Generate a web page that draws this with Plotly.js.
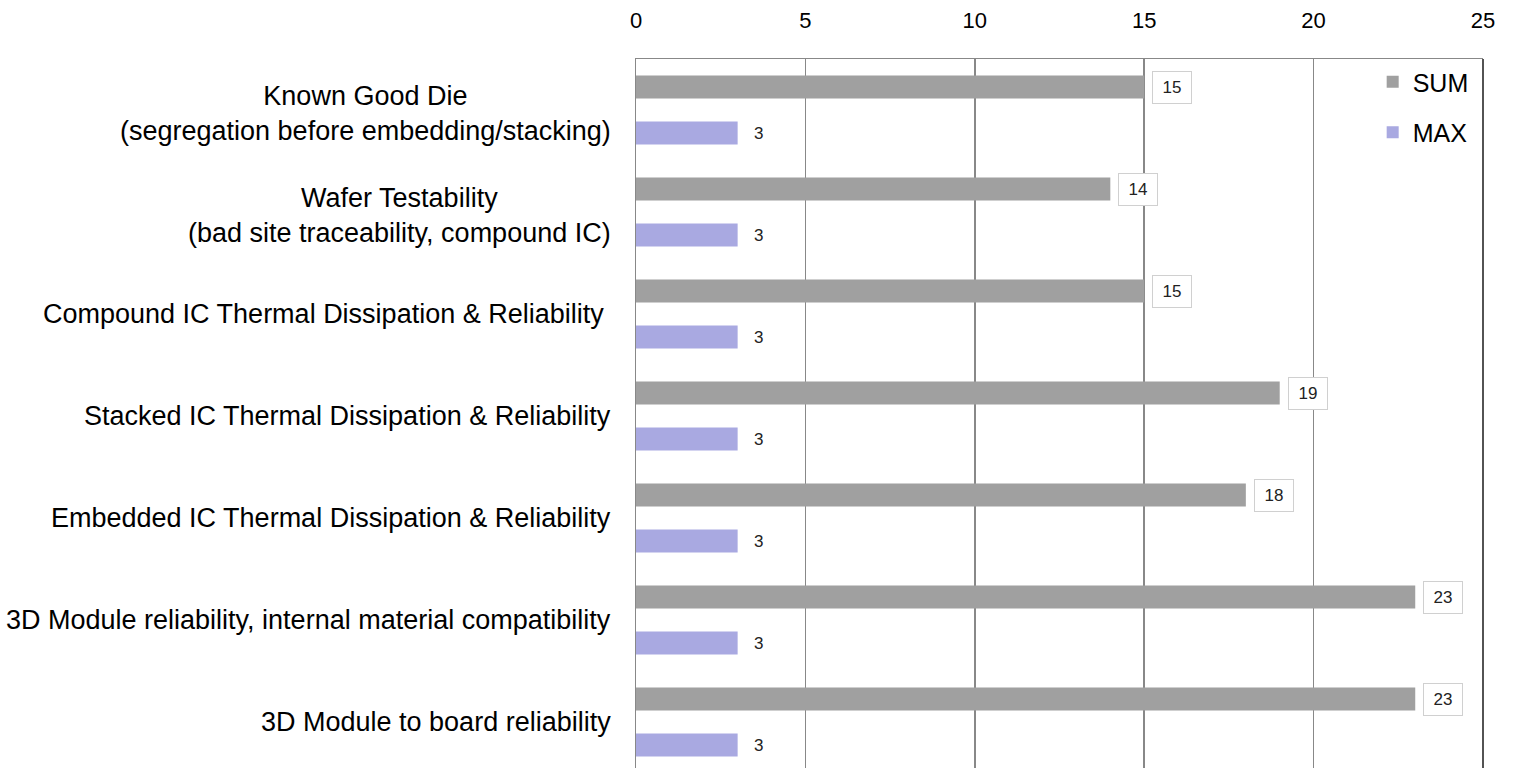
<!DOCTYPE html>
<html>
<head>
<meta charset="utf-8">
<script src="https://cdn.plot.ly/plotly-3.0.1.min.js"></script>
<style>
html,body{margin:0;padding:0;background:#fff;overflow:hidden;}
#chart{width:1517px;height:768px;}
</style>
</head>
<body>
<div id="chart"></div>
<script>
const categories = [
  "Known Good Die<br>(segregation before embedding/stacking)",
  "Wafer Testability<br>(bad site traceability, compound IC)",
  "Compound IC Thermal Dissipation & Reliability ",
  "Stacked IC Thermal Dissipation & Reliability",
  "Embedded IC Thermal Dissipation & Reliability",
  "3D Module reliability, internal material compatibility",
  "3D Module to board reliability"
];
const sumValues = [15, 14, 15, 19, 18, 23, 23];
const maxValues = [3, 3, 3, 3, 3, 3, 3];
const xTicks = [0, 5, 10, 15, 20, 25];
const seriesNames = ["SUM", "MAX"];

const FONT = '"Liberation Sans", Arial, sans-serif';
const catIdx = categories.map((c, i) => i);

const traces = [
  {
    type: 'bar', orientation: 'h', name: seriesNames[0],
    x: sumValues, y: catIdx,
    marker: {color: '#a0a0a0', line: {width: 0}},
    legendgroup: 'a', hoverinfo: 'x'
  },
  {
    type: 'bar', orientation: 'h', name: seriesNames[1],
    x: maxValues, y: catIdx,
    marker: {color: '#a9a9e1', line: {width: 0}},
    legendgroup: 'b', hoverinfo: 'x'
  }
];

const annotations = [];
categories.forEach((c, i) => {
  const multi = c.indexOf('<br>') >= 0;
  annotations.push({
    xref: 'paper', yref: 'y', x: 0, y: i, xanchor: 'right', yanchor: 'middle',
    xshift: -23, yshift: multi ? -3 : 0, text: c, showarrow: false, align: 'center',
    font: {family: FONT, size: 27, color: '#000'}
  });
  annotations.push({
    xref: 'x', yref: 'y', x: sumValues[i], y: i, xanchor: 'left', yanchor: 'middle',
    xshift: 8, yshift: 23, text: String(sumValues[i]), showarrow: false,
    bordercolor: '#d0d0d0', borderwidth: 1, borderpad: 6, width: 26, bgcolor: '#fff',
    font: {family: FONT, size: 17, color: '#222'}
  });
  annotations.push({
    xref: 'x', yref: 'y', x: maxValues[i], y: i, xanchor: 'left', yanchor: 'middle',
    xshift: 14, yshift: -23, text: String(maxValues[i]), showarrow: false,
    font: {family: FONT, size: 17, color: '#222'}
  });
});

const layout = {
  width: 1517, height: 768,
  margin: {l: 636, r: 34, t: 59, b: 0, pad: 0},
  paper_bgcolor: '#fff', plot_bgcolor: '#fff',
  barmode: 'group', bargap: 0.098, bargroupgap: 0.5,
  font: {family: FONT, size: 22, color: '#000'},
  xaxis: {
    side: 'top', range: [0, 25], tickvals: xTicks, ticktext: xTicks.map(String),
    showgrid: true, gridcolor: '#888888', gridwidth: 1.5,
    showline: true, linecolor: '#888888', linewidth: 1.5,
    zeroline: false, ticks: '', ticklabelstandoff: 21,
    tickfont: {family: FONT, size: 22, color: '#000'}, fixedrange: true
  },
  yaxis: {
    range: [6.45, -0.5], showticklabels: false, showgrid: false, zeroline: false,
    showline: true, linecolor: '#888888', linewidth: 1.5, ticks: '', fixedrange: true
  },
  legend: {
    x: 0.989, y: 1.0, xanchor: 'right', yanchor: 'top',
    bgcolor: 'rgba(0,0,0,0)', traceorder: 'grouped', tracegroupgap: 15,
    itemwidth: 30, font: {family: FONT, size: 25, color: '#000'}
  },
  shapes: [{
    type: 'line', xref: 'paper', yref: 'paper', x0: 1, x1: 1, y0: 0, y1: 1,
    line: {color: '#1a1a1a', width: 1.5}
  }],
  annotations: annotations,
  showlegend: true
};

Plotly.newPlot('chart', traces, layout, {displayModeBar: false, staticPlot: true});
</script>
</body>
</html>
